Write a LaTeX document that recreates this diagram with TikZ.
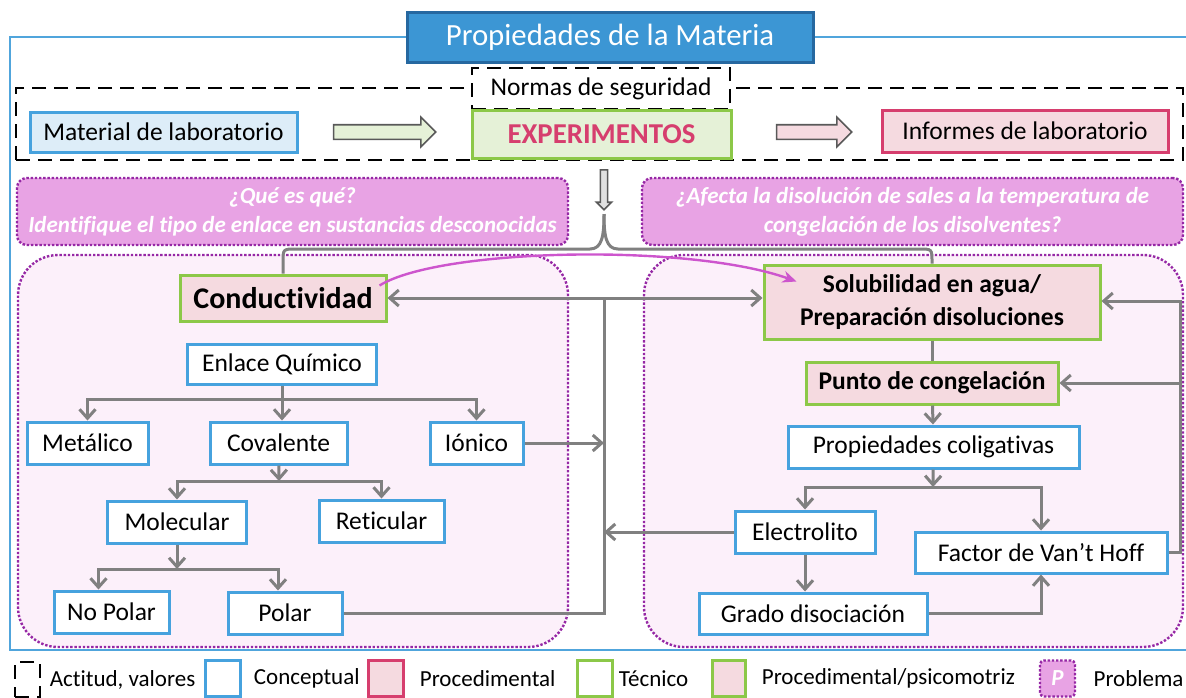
\documentclass[tikz,border=0pt]{standalone}
\usepackage{fontspec}
\setmainfont{Carlito}[RawFeature={-liga;-clig;-calt;-rlig;-dlig}]
\usepackage{tikz}
\usetikzlibrary{positioning, shapes.arrows, arrows.meta}

\definecolor{framblue}{RGB}{80,165,220}
\definecolor{titleblue}{RGB}{60,150,212}
\definecolor{titledark}{RGB}{38,104,160}
\definecolor{conceptblue}{RGB}{70,162,222}
\definecolor{lightblue}{RGB}{221,237,248}
\definecolor{tecgreen}{RGB}{140,200,72}
\definecolor{lightgreen}{RGB}{229,241,215}
\definecolor{crimson}{RGB}{214,62,110}
\definecolor{softpink}{RGB}{245,218,224}
\definecolor{probfill}{RGB}{232,163,228}
\definecolor{probline}{RGB}{150,40,165}
\definecolor{regionfill}{RGB}{252,240,250}
\definecolor{flowgrey}{RGB}{128,128,128}
\definecolor{linkpink}{RGB}{205,85,205}

\begin{document}
\begin{tikzpicture}[x=0.5pt, y=-0.5pt, every node/.style={font=\fontsize{12.75}{15}\selectfont}]
            % styles
            \tikzstyle{concept} = [rectangle, draw=conceptblue, line width=1.5pt, fill=white, inner sep=0pt, align=center]
            \tikzstyle{proced} = [concept, draw=tecgreen, fill=softpink, font=\fontsize{12.75}{16.5}\selectfont\bfseries]
            \tikzstyle{problem} = [rectangle, rounded corners=5pt, draw=probline, line width=1.2pt, dash pattern=on 1.2pt off 0.9pt, fill=probfill, text=white, align=center, font=\fontsize{11.5}{14.5}\selectfont\bfseries\itshape]
            \tikzstyle{region} = [rectangle, rounded corners=20pt, draw=probline, line width=1.2pt, dash pattern=on 1.2pt off 0.9pt, fill=regionfill]
            \tikzstyle{dashbox} = [rectangle, draw=black, line width=1.4pt, dash pattern=on 7pt off 4pt, inner sep=0pt]
            \tikzstyle{hollow} = [single arrow, draw=black!65, line width=0.8pt, inner xsep=0pt, inner ysep=3.25pt, single arrow head extend=3.75pt]
            \tikzstyle{link} = [line width=1.5pt, draw=flowgrey]
            \tikzstyle{arrow} = [link, -{Straight Barb[length=4.5pt, width=8pt]}]
            \tikzstyle{dblarrow} = [link, {Straight Barb[length=4.5pt, width=8pt]}-{Straight Barb[length=4.5pt, width=8pt]}]
            \tikzstyle{legendtext} = [inner sep=0pt, font=\fontsize{11.5}{14}\selectfont]

            \useasboundingbox (0,0) rectangle (1186,697);

            % frame
            \draw[framblue, line width=1pt] (1186,37) -- (10,37) -- (10,650) -- (1186,650);
            \node (title) [rectangle, draw=titledark, line width=1.5pt, fill=titleblue, text=white, minimum width=203pt, minimum height=25pt, font=\fontsize{15.4}{18}\selectfont] at (610,37) {Propiedades de la Materia};

            % wrap
            \node (wrap) [dashbox, minimum width=583.5pt, minimum height=36pt] at (599.5,124) {};
            \node (normas) [dashbox, fill=white, minimum width=129pt, minimum height=20.5pt] at (601,88.5) {Normas de seguridad};
            \node (material) [concept, fill=lightblue, minimum width=133.5pt, minimum height=20pt] at (163.5,132) {Material de laboratorio};
            \node (experimentos) [concept, draw=tecgreen, fill=lightgreen, text=crimson, minimum width=129.5pt, minimum height=24pt, font=\fontsize{14.4}{17}\selectfont\bfseries] at (601.5,134) {EXPERIMENTOS};
            \node (informes) [concept, draw=crimson, fill=softpink, minimum width=143pt, minimum height=21pt] at (1025,131) {Informes de laboratorio};
            \node (matarrow) [hollow, fill=lightgreen, minimum height=51pt] at (381,132) {};
            \node (infarrow) [hollow, fill=softpink, minimum height=37.5pt] at (810.5,132) {};
            \node (downarrow) [hollow, fill=black!12, rotate=-90, inner ysep=1.4pt, single arrow head extend=2pt, minimum height=20pt] at (604,188) {};

            % problems
            \node (probleft) [problem, minimum width=275.5pt, minimum height=33.5pt] at (292.5,211.5) {¿Qué es qué?\\Identifique el tipo de enlace en sustancias desconocidas};
            \node (probright) [problem, minimum width=270.5pt, minimum height=33.5pt] at (912.5,211.5) {¿Afecta la disolución de sales a la temperatura de\\congelación de los disolventes?};

            % regions
            \node (regleft) [region, minimum width=275pt, minimum height=196pt] at (293,451) {};
            \node (regright) [region, minimum width=269.5pt, minimum height=196pt] at (913.5,451) {};

            % conductividad
            \node (conduct) [proced, minimum width=103pt, minimum height=23pt, font=\fontsize{15}{18}\selectfont\bfseries] at (283,298) {Conductividad};
            \node (enlace) [concept, minimum width=94.5pt, minimum height=20pt] at (282,364) {Enlace Químico};
            \node (metalico) [concept, minimum width=60.5pt, minimum height=21pt] at (87.5,443) {Metálico};
            \node (covalente) [concept, minimum width=68.5pt, minimum height=21pt] at (278.5,443) {Covalente};
            \node (ionico) [concept, minimum width=46.5pt, minimum height=21pt] at (476.5,443) {Iónico};
            \node (molecular) [concept, minimum width=69.5pt, minimum height=21pt] at (177,522) {Molecular};
            \node (reticular) [concept, minimum width=62.5pt, minimum height=21pt] at (381.5,521) {Reticular};
            \node (nopolar) [concept, minimum width=57.5pt, minimum height=21pt] at (111.5,612) {No Polar};
            \node (polar) [concept, minimum width=57pt, minimum height=21pt] at (285,613) {Polar};

            % solubilidad
            \node (solub) [proced, minimum width=168pt, minimum height=37pt] at (932,302) {Solubilidad en agua/\\Preparación disoluciones};
            \node (punto) [proced, minimum width=126pt, minimum height=21pt] at (932,383) {Punto de congelación};
            \node (colig) [concept, minimum width=145.5pt, minimum height=21pt] at (933.5,447) {Propiedades coligativas};
            \node (electrolito) [concept, minimum width=70pt, minimum height=21pt] at (805,532) {Electrolito};
            \node (factor) [concept, minimum width=126pt, minimum height=20.5pt] at (1041,552.5) {Factor de Van’t Hoff};
            \node (grado) [concept, minimum width=114pt, minimum height=20.5pt] at (813,613.5) {Grado disociación};

            % brace
            \coordinate (tip) at (604,214);
            \draw[link] (conduct.north) -- (283,262) .. controls (283,249) .. (296,249) -- (590,249) .. controls (602,249) and (604,236) .. (tip);
            \draw[link] (solub.north) -- (932,262) .. controls (932,249) .. (919,249) -- (618,249) .. controls (606,249) and (604,236) .. (tip);
            \draw[linkpink, line width=1.2pt, -{Stealth[length=7pt, width=6pt]}] ([xshift=-4pt, yshift=-6pt]conduct.north east) .. controls (440,248) and (690,243) .. ([xshift=17pt, yshift=-9pt]solub.north west);

            % flow of information
            \coordinate (bq) at (282,399);
            \coordinate (bc) at (279,481);
            \coordinate (bm) at (177,569);
            \draw[link] (enlace) -- (bq);
            \draw[arrow] (bq) -| (metalico);
            \draw[arrow] (bq) -| (ionico);
            \draw[arrow] (bq) -- (bq |- covalente.north);
            \draw[arrow] (covalente) -- (bc);
            \draw[arrow] (bc) -| (molecular);
            \draw[arrow] (bc) -| (reticular);
            \draw[arrow] (molecular) -- (bm);
            \draw[arrow] (bm) -| ([xshift=-6.5pt]nopolar.north);
            \draw[arrow] (bm) -| ([xshift=-3.5pt]polar.north);

            \coordinate (bp) at (933,487);
            \draw[link] (solub) -- (punto);
            \draw[arrow] (punto) -- (colig);
            \draw[arrow] (colig) -- (bp);
            \draw[arrow] (bp) -| (electrolito);
            \draw[arrow] (bp) -| (factor);
            \draw[arrow] (electrolito.south) -- (electrolito.south |- grado.north);
            \draw[arrow] (grado.east) -| (factor.south);

            \coordinate (rbot) at (1180,552.5);
            \coordinate (rtop) at (1180,301);
            \draw[arrow] (factor.east) -- (rbot) -- (rtop) -- (rtop -| solub.east);
            \draw[arrow] (rbot |- punto.east) -- (punto.east);

            \coordinate (vl) at (604,612);
            \draw[link] (polar.east) -| (vl |- conduct.east);
            \draw[dblarrow] (conduct.east) -- (conduct.east -| solub.west);
            \draw[arrow] (ionico.east) -- (ionico.east -| vl);
            \draw[arrow] (electrolito.west) -- (electrolito.west -| vl);

            % legend
            \node (legatt) [dashbox, minimum width=12.5pt, minimum height=17.5pt] at (27.5,679.5) {};
            \node (legattt) [legendtext, right=4pt of legatt] {Actitud, valores};
            \node (legcon) [concept, minimum width=17.5pt, minimum height=18pt] at (222.5,678.5) {};
            \node (legcont) [legendtext, right=6pt of legcon] {Conceptual};
            \node (legpro) [concept, draw=crimson, fill=softpink, minimum width=17.5pt, minimum height=18pt] at (385.5,678.5) {};
            \node (legprot) [legendtext, right=7.5pt of legpro] {Procedimental};
            \node (legtec) [concept, draw=tecgreen, minimum width=17.5pt, minimum height=18pt] at (594.5,678.5) {};
            \node (legtect) [legendtext, right=2.5pt of legtec] {Técnico};
            \node (legpsi) [concept, draw=tecgreen, fill=softpink, minimum width=16.5pt, minimum height=18pt] at (728.5,678.5) {};
            \node (legpsit) [legendtext, right=7.5pt of legpsi] {Procedimental/psicomotriz};
            \node (legprob) [problem, rounded corners=2pt, minimum width=17.5pt, minimum height=18pt, inner sep=0pt, font=\fontsize{11.5}{14}\selectfont\bfseries\itshape] at (1057.5,678.5) {P};
            \node (legprobt) [legendtext, right=8.5pt of legprob] {Problema};
        \end{tikzpicture}
\end{document}
